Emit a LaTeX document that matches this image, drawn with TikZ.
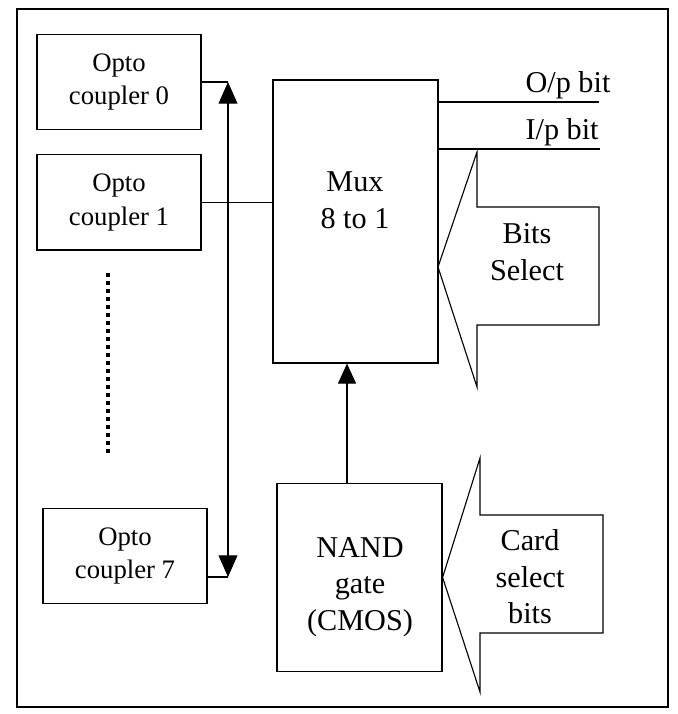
\documentclass[tikz,border=0pt]{standalone}
\usepackage{fontspec}
\setmainfont{Liberation Serif}
\usetikzlibrary{arrows.meta, positioning}

\begin{document}
\begin{tikzpicture}[
    x=0.025cm, y=-0.025cm,
    line width=0.8pt,
    node distance=0.6cm,
    optobox/.style={rectangle, draw=black, align=center, minimum width=4.1cm, minimum height=2.38cm, font=\fontsize{19}{24}\selectfont},
    blockbox/.style={rectangle, draw=black, minimum width=4.125cm},
    bigtext/.style={align=center, font=\fontsize{21.5}{26}\selectfont},
    arrow/.style={-{Triangle[length=0.5cm, width=0.45cm]}},
    dblarrow/.style={{Triangle[length=0.54cm, width=0.47cm]}-{Triangle[length=0.54cm, width=0.47cm]}},
    dotline/.style={line width=2.8pt, dash pattern=on 2.8pt off 2.9pt}
]
\useasboundingbox (0,0) rectangle (677,714);
\draw (17,9) rectangle (668,707);

\node[optobox] (opto0) at (119,82) {Opto\\coupler 0};
\node[optobox, below=of opto0] (opto1) {Opto\\coupler 1};
\node[optobox] (opto7) at (125,556) {Opto\\coupler 7};

\node[blockbox, minimum height=7.075cm] (mux) at (355.5,221.5) {};
\node[bigtext] (muxtext) at (355,200) {Mux\\8 to 1};
\node[blockbox, minimum height=4.7cm, below=2.98cm of mux, xshift=0.1cm] (nand) {};
\node[bigtext] (nandtext) at (360,587) {NAND\\gate\\(CMOS)};

% bus between the opto couplers
\coordinate (bustop) at (228,82);
\coordinate (busbot) at (228,577);
\draw[dblarrow] (bustop) -- (busbot);
\draw (opto0.east) -- (bustop);
\draw (opto7.east |- busbot) -- (busbot);
\draw (opto1.east) -- (opto1.east -| mux.west);

\coordinate (dottop) at (108,273);
\coordinate (dotbot) at (108,455);
\draw[dotline] (dottop) -- (dotbot);

\coordinate (selx) at (347,0);
\draw[arrow] (selx |- nand.north) -- (selx |- mux.south);

% output lines
\coordinate (opend) at (599,102);
\coordinate (ipend) at (600,149);
\draw (mux.east |- opend) -- (opend);
\draw (mux.east |- ipend) -- (ipend);
\node[bigtext, anchor=base west, inner sep=0pt] (optext) at (525,93) {O/p bit};
\node[bigtext, anchor=base west, inner sep=0pt] (iptext) at (525,140) {I/p bit};

% block arrows
\draw (438,267) -- (477,152) -- (477,207) -- (599,207) -- (599,325) -- (477,325) -- (477,387) -- cycle;
\node[bigtext] (bitstext) at (527,252) {Bits\\Select};
\draw (nand.east) -- (480,458) -- (480,515) -- (603,515) -- (603,633) -- (480,633) -- (480,692) -- cycle;
\node[bigtext] (cardtext) at (530,577) {Card\\select\\bits};

\end{tikzpicture}
\end{document}
